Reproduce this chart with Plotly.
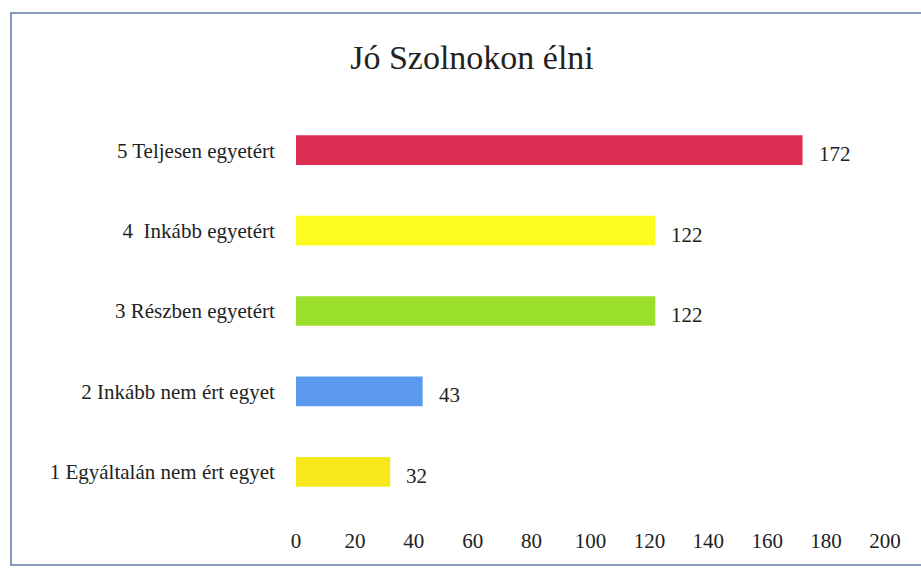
import plotly.graph_objects as go

categories = ["1 Egyáltalán nem ért egyet", "2 Inkább nem ért egyet", "3 Részben egyetért",
              "4  Inkább egyetért", "5 Teljesen egyetért"]
values = [32, 43, 122, 122, 172]
colors = ["#F7E81E", "#5B99EE", "#9ADF2C", "#FDFB22", "#DE2D52"]
x_ticks = [0, 20, 40, 60, 80, 100, 120, 140, 160, 180, 200]

FONT = "Liberation Serif, Times New Roman, serif"
W, H = 921, 568
L, R, T, B = 296, 36, 110, 56

fig = go.Figure(go.Bar(
    y=categories, x=values, orientation="h",
    marker=dict(color=colors, line=dict(width=0)),
    width=0.37, hoverinfo="skip",
))

for c, v in zip(categories, values):
    fig.add_annotation(x=v, y=c, text=str(v), showarrow=False, xanchor="left",
                       xshift=14, yshift=-4, font=dict(family=FONT, size=21, color="#222"))

pw, ph = W - L - R, H - T - B
fig.add_shape(type="rect", xref="paper", yref="paper",
              x0=(11 - L) / pw, x1=(930 - L) / pw,
              y0=(H - B - 565) / ph, y1=(H - B - 13) / ph,
              line=dict(color="#5F74A6", width=1.5), fillcolor="rgba(0,0,0,0)", layer="below")

fig.update_layout(
    width=W, height=H,
    margin=dict(l=L, r=R, t=T, b=B, pad=0),
    paper_bgcolor="white", plot_bgcolor="white",
    showlegend=False,
    title=dict(text="Jó Szolnokon élni", x=472 / W, xanchor="center",
               y=1 - 57 / H, yanchor="middle",
               font=dict(family=FONT, size=34, color="#222")),
    xaxis=dict(range=[0, 200], tickvals=x_ticks, showgrid=False, zeroline=False,
               showline=False, ticks="outside", ticklen=10, tickcolor="rgba(0,0,0,0)",
               tickfont=dict(family=FONT, size=21, color="#222"), fixedrange=True),
    yaxis=dict(showgrid=False, zeroline=False, showline=False, ticks="outside",
               ticklen=16, tickcolor="rgba(0,0,0,0)", range=[-0.5, 4.5],
               tickfont=dict(family=FONT, size=21, color="#222"), fixedrange=True),
)

fig.write_html("out.html", config={"displayModeBar": False},
               post_script="document.body.style.margin='0';document.body.style.overflow='hidden';")
